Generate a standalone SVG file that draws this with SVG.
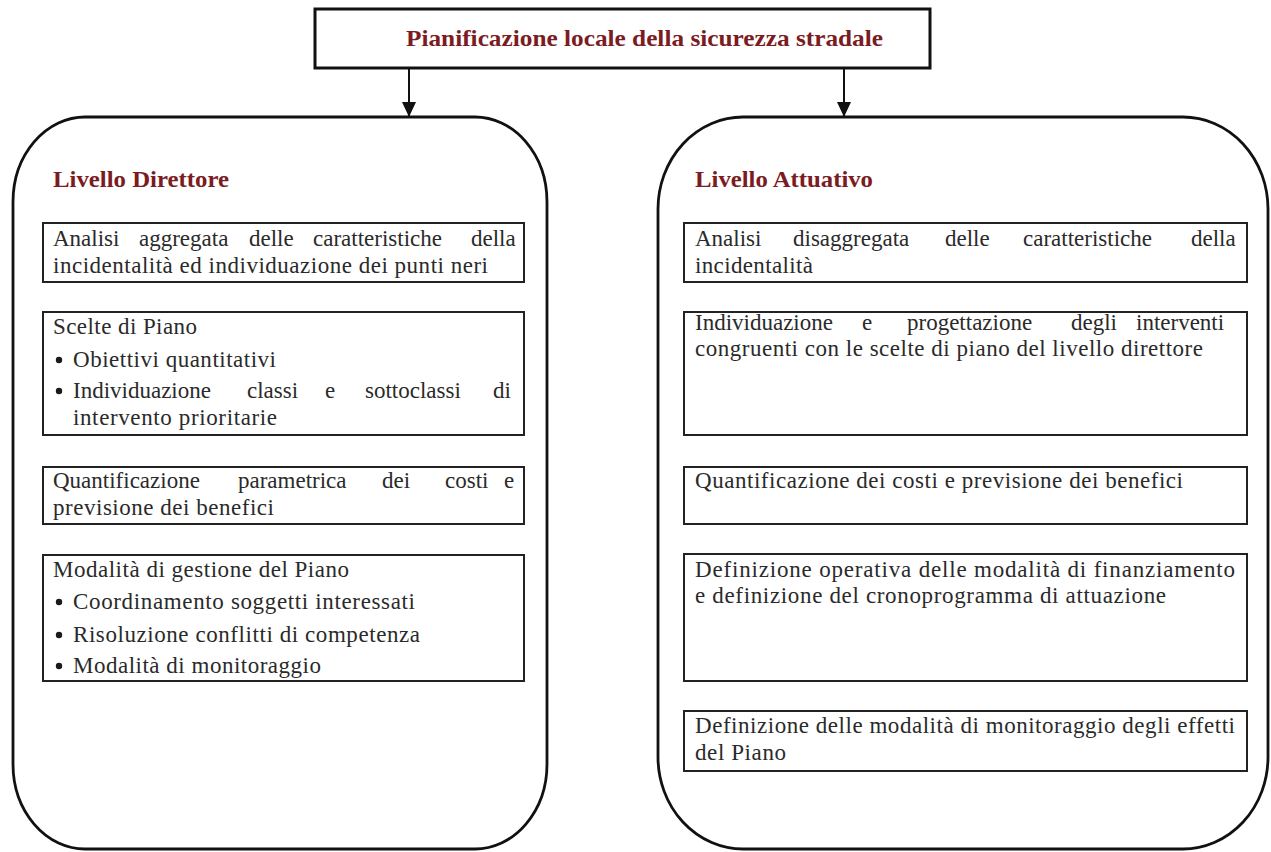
<svg xmlns="http://www.w3.org/2000/svg" width="1271" height="852" viewBox="0 0 1271 852">
<style>
  .panel { fill: #ffffff; stroke: #111111; stroke-width: 2.8; }
  .box { fill: #ffffff; stroke: #222222; stroke-width: 2; }
  .topbox { fill: #ffffff; stroke: #111111; stroke-width: 3; }
  .t { font-family: "Liberation Serif", "Times New Roman", serif; font-size: 23px; fill: #2a2a2a; }
  .h { font-family: "Liberation Serif", "Times New Roman", serif; font-size: 24px; font-weight: bold; fill: #7b1c22; }
  .conn { stroke: #111111; stroke-width: 2; fill: none; }
  .bullet { fill: #1a1a1a; }
</style>
<defs>
  <marker id="arrow" markerUnits="userSpaceOnUse" markerWidth="15" markerHeight="14" viewBox="0 0 15 14" refX="15" refY="7" orient="auto">
    <path d="M0,0 L15,7 L0,14 z" fill="#111111"/>
  </marker>
</defs>

<g id="title">
  <rect class="topbox" x="315" y="9" width="615" height="59"/>
  <text class="h" x="406" y="46" textLength="477" lengthAdjust="spacingAndGlyphs">Pianificazione locale della sicurezza stradale</text>
</g>

<g id="connectors">
  <line class="conn" x1="409" y1="68" x2="409" y2="117" marker-end="url(#arrow)"/>
  <line class="conn" x1="844" y1="68" x2="844" y2="117" marker-end="url(#arrow)"/>
</g>

<g id="livello-direttore">
  <rect class="panel" x="13" y="117" width="534" height="732" rx="72" ry="85"/>
  <text class="h" x="53" y="187" textLength="176" lengthAdjust="spacingAndGlyphs">Livello Direttore</text>
</g>

<g id="ld-analisi">
  <rect class="box" x="43" y="223" width="481" height="59"/>
  <text class="t" y="246"><tspan x="53">Analisi</tspan><tspan x="139">aggregata</tspan><tspan x="249">delle</tspan><tspan x="313">caratteristiche</tspan><tspan x="471">della</tspan></text>
  <text class="t" x="53" y="273" textLength="435">incidentalità ed individuazione dei punti neri</text>
</g>

<g id="ld-scelte">
  <rect class="box" x="43" y="312" width="481" height="123"/>
  <text class="t" x="53" y="334" textLength="144">Scelte di Piano</text>
  <circle class="bullet" cx="59" cy="360" r="3.2"/>
  <text class="t" x="73" y="367" textLength="203">Obiettivi quantitativi</text>
  <circle class="bullet" cx="59" cy="391" r="3.2"/>
  <text class="t" y="398"><tspan x="73">Individuazione</tspan><tspan x="247">classi</tspan><tspan x="325">e</tspan><tspan x="365">sottoclassi</tspan><tspan x="493">di</tspan></text>
  <text class="t" x="73" y="425" textLength="204">intervento prioritarie</text>
</g>

<g id="ld-quantificazione">
  <rect class="box" x="43" y="467" width="481" height="57"/>
  <text class="t" y="488"><tspan x="53">Quantificazione</tspan><tspan x="238">parametrica</tspan><tspan x="382">dei</tspan><tspan x="445">costi</tspan><tspan x="504">e</tspan></text>
  <text class="t" x="53" y="515" textLength="221">previsione dei benefici</text>
</g>

<g id="ld-gestione">
  <rect class="box" x="43" y="555" width="481" height="126"/>
  <text class="t" x="53" y="577" textLength="296">Modalità di gestione del Piano</text>
  <circle class="bullet" cx="59" cy="602" r="3.2"/>
  <text class="t" x="73" y="609" textLength="342">Coordinamento soggetti interessati</text>
  <circle class="bullet" cx="59" cy="635" r="3.2"/>
  <text class="t" x="73" y="642" textLength="347">Risoluzione conflitti di competenza</text>
  <circle class="bullet" cx="59" cy="666" r="3.2"/>
  <text class="t" x="73" y="673" textLength="248">Modalità di monitoraggio</text>
</g>

<g id="livello-attuativo">
  <rect class="panel" x="658" y="117" width="610" height="732" rx="85" ry="92"/>
  <text class="h" x="695" y="187" textLength="178" lengthAdjust="spacingAndGlyphs">Livello Attuativo</text>
</g>

<g id="la-analisi">
  <rect class="box" x="684" y="223" width="563" height="59"/>
  <text class="t" y="246"><tspan x="695">Analisi</tspan><tspan x="793">disaggregata</tspan><tspan x="945">delle</tspan><tspan x="1023">caratteristiche</tspan><tspan x="1191">della</tspan></text>
  <text class="t" x="695" y="273" textLength="118">incidentalità</text>
</g>

<g id="la-individuazione">
  <rect class="box" x="684" y="312" width="563" height="123"/>
  <text class="t" y="330"><tspan x="695">Individuazione</tspan><tspan x="862">e</tspan><tspan x="907">progettazione</tspan><tspan x="1071">degli</tspan><tspan x="1136">interventi</tspan></text>
  <text class="t" x="695" y="356" textLength="508">congruenti con le scelte di piano del livello direttore</text>
</g>

<g id="la-quantificazione">
  <rect class="box" x="684" y="467" width="563" height="57"/>
  <text class="t" x="695" y="488" textLength="488">Quantificazione dei costi e previsione dei benefici</text>
</g>

<g id="la-finanziamento">
  <rect class="box" x="684" y="554" width="563" height="127"/>
  <text class="t" x="695" y="577" textLength="540">Definizione operativa delle modalità di finanziamento</text>
  <text class="t" x="695" y="603" textLength="471">e definizione del cronoprogramma di attuazione</text>
</g>

<g id="la-monitoraggio">
  <rect class="box" x="684" y="711" width="563" height="60"/>
  <text class="t" x="695" y="733" textLength="540">Definizione delle modalità di monitoraggio degli effetti</text>
  <text class="t" x="695" y="760" textLength="91">del Piano</text>
</g>
</svg>
